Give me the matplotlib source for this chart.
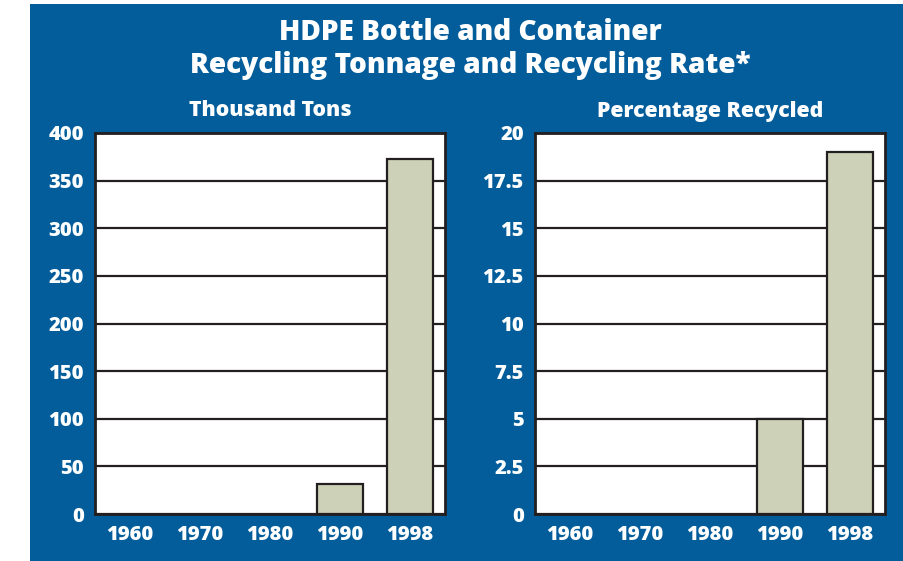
import numpy as np
import matplotlib.pyplot as plt
from matplotlib.patches import Rectangle

years = ['1960', '1970', '1980', '1990', '1998']
tons = [0, 0, 0, 31, 373]          # thousand tons
pct = [0, 0, 0, 5, 19]             # percentage recycled

tons_ticks = [0, 50, 100, 150, 200, 250, 300, 350, 400]
pct_ticks = [0, 2.5, 5, 7.5, 10, 12.5, 15, 17.5, 20]
pct_labels = ['0', '2.5', '5', '7.5', '10', '12.5', '15', '17.5', '20']

blue = '#035d9b'
bar_color = '#cdd1b7'
dark = '#231f20'

plt.rcParams['font.family'] = ['Open Sans', 'DejaVu Sans']

W, H = 904, 561
fig = plt.figure(figsize=(W / 100, H / 100), dpi=100, facecolor='white')

# blue background panel
fig.patches.append(Rectangle((30 / W, 0), (W - 30) / W, (H - 4) / H,
                             transform=fig.transFigure, facecolor=blue,
                             edgecolor='none', zorder=-10))

fig.text(470 / W, 1 - 33 / H, 'HDPE Bottle and Container', color='white',
         fontsize=20.2, fontweight='heavy', ha='center', va='center')
fig.text(470 / W, 1 - 65 / H, 'Recycling Tonnage and Recycling Rate*', color='white',
         fontsize=20.2, fontweight='heavy', ha='center', va='center')


def panel(left, values, ticks, labels, top, title, title_x):
    ax = fig.add_axes([left / W, 47 / H, 350 / W, 381 / H])
    ax.set_facecolor('white')
    x = np.arange(len(years))
    vals = np.array(values, dtype=float)
    shown = vals > 0
    ax.bar(x[shown], vals[shown], width=0.65, color=bar_color, edgecolor=dark,
           linewidth=1.6, zorder=3)
    ax.set_xlim(-0.5, len(years) - 0.5)
    ax.set_ylim(0, top)
    ax.set_yticks(ticks)
    ax.set_yticklabels(labels)
    ax.set_xticks(x)
    ax.set_xticklabels(years)
    ax.yaxis.grid(True, color=dark, linewidth=1.6, zorder=1)
    ax.set_axisbelow(True)
    for s in ax.spines.values():
        s.set_color(dark)
        s.set_linewidth(2)
    ax.tick_params(length=0, colors='white', labelsize=14.5, pad=8)
    for lbl in ax.get_xticklabels() + ax.get_yticklabels():
        lbl.set_fontweight('heavy')
    fig.text(title_x / W, 1 - 111 / H, title, color='white', fontsize=15.3,
             fontweight='heavy', ha='center', va='center')
    return ax


panel(95, tons, tons_ticks, [str(t) for t in tons_ticks], 400, 'Thousand Tons', 270)
panel(535, pct, pct_ticks, pct_labels, 20, 'Percentage Recycled', 710)

fig.savefig('out.png', dpi=100, facecolor='white')
